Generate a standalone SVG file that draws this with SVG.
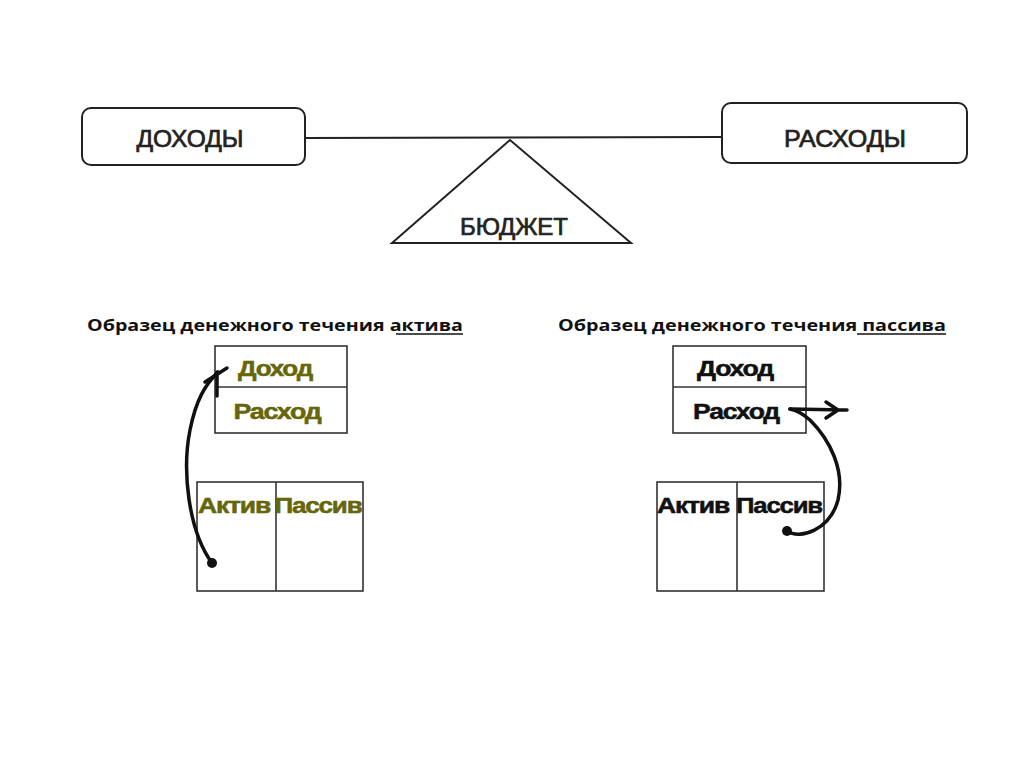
<svg xmlns="http://www.w3.org/2000/svg" width="1024" height="767" viewBox="0 0 1024 767">
<style>
.box{fill:#fff;stroke:#222;stroke-width:2}
.tbl{fill:#fff;stroke:#333;stroke-width:1.6}
.big{font-family:"Liberation Sans",Arial,sans-serif;font-size:24px;fill:#222;stroke:#222;stroke-width:0.7;text-anchor:middle}
.ttl{font-family:"Open Sans","DejaVu Sans",sans-serif;font-weight:bold;font-size:16px;fill:#111}
.cell{font-family:"Liberation Sans",Arial,sans-serif;font-weight:bold;font-size:22px;text-anchor:middle;letter-spacing:-1px;stroke-width:0.5}
.olive{fill:#66660a;stroke:#66660a}
.blk{fill:#111;stroke:#111}
.pen{fill:none;stroke:#111;stroke-width:3.5;stroke-linecap:round;stroke-linejoin:round}
</style>
<rect width="1024" height="767" fill="#fff"/>
<g id="connectors">
<line x1="305" y1="138" x2="722" y2="137" stroke="#222" stroke-width="2"/>
</g>
<g id="income">
<rect class="box" x="82" y="108" width="223" height="57" rx="9"/>
<text class="big" x="190" y="147" textLength="107" lengthAdjust="spacingAndGlyphs">ДОХОДЫ</text>
</g>
<g id="expenses">
<rect class="box" x="722" y="103" width="245" height="60" rx="9"/>
<text class="big" x="845" y="147" textLength="122" lengthAdjust="spacingAndGlyphs">РАСХОДЫ</text>
</g>
<g id="budget">
<polygon points="510,140 392,243 631,243" fill="#fff" stroke="#222" stroke-width="2"/>
<text class="big" x="514" y="235" font-size="22" textLength="108" lengthAdjust="spacingAndGlyphs">БЮДЖЕТ</text>
</g>
<g id="title-active">
<text class="ttl" x="87" y="331" textLength="376" lengthAdjust="spacingAndGlyphs">Образец денежного течения актива</text>
<line x1="396" y1="334" x2="463" y2="334" stroke="#111" stroke-width="1.5"/>
</g>
<g id="title-passive">
<text class="ttl" x="558" y="331" textLength="388" lengthAdjust="spacingAndGlyphs">Образец денежного течения пассива</text>
<line x1="857" y1="334" x2="946" y2="334" stroke="#111" stroke-width="1.5"/>
</g>
<g id="active-flow">
<rect class="tbl" x="215" y="346" width="132" height="87"/>
<line class="tbl" x1="215" y1="387" x2="347" y2="387"/>
<text class="cell olive" x="275" y="376" textLength="74" lengthAdjust="spacingAndGlyphs">Доход</text>
<text class="cell olive" x="277" y="419" textLength="87" lengthAdjust="spacingAndGlyphs">Расход</text>
</g>
<g id="active-balance">
<rect class="tbl" x="197" y="482" width="166" height="109"/>
<line class="tbl" x1="276" y1="482" x2="276" y2="591"/>
<text class="cell olive" x="234" y="513" textLength="72" lengthAdjust="spacingAndGlyphs">Актив</text>
<text class="cell olive" x="318" y="513" textLength="87" lengthAdjust="spacingAndGlyphs">Пассив</text>
</g>
<g id="passive-flow">
<rect class="tbl" x="673" y="346" width="133" height="87"/>
<line class="tbl" x1="673" y1="387" x2="806" y2="387"/>
<text class="cell blk" x="735" y="376" textLength="76" lengthAdjust="spacingAndGlyphs">Доход</text>
<text class="cell blk" x="736" y="419" textLength="86" lengthAdjust="spacingAndGlyphs">Расход</text>
</g>
<g id="passive-balance">
<rect class="tbl" x="657" y="482" width="167" height="109"/>
<line class="tbl" x1="737" y1="482" x2="737" y2="591"/>
<text class="cell blk" x="693" y="513" textLength="72" lengthAdjust="spacingAndGlyphs">Актив</text>
<text class="cell blk" x="779" y="513" textLength="86" lengthAdjust="spacingAndGlyphs">Пассив</text>
</g>
<g id="flow-arrows">
<circle cx="212" cy="563" r="5" fill="#111"/>
<path class="pen" d="M212,563 C188,530 182,470 190,430 C196,400 205,385 218,372"/>
<path class="pen" d="M205,382 L227,368 M217,372 L217,396"/>
<circle cx="787" cy="531" r="5" fill="#111"/>
<path class="pen" d="M787,531 C800,540 830,530 838,500 C845,470 830,440 810,420 C802,413 796,410 790,409"/>
<path class="pen" d="M790,409 L847,410 M826,402 L838,410 L826,418"/>
</g>
</svg>
